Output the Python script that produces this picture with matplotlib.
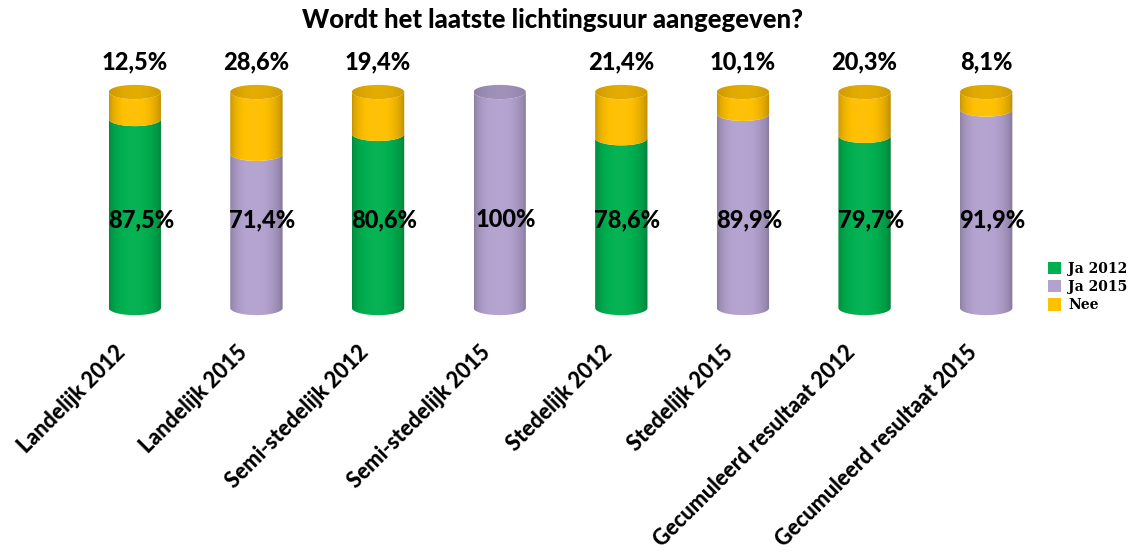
import numpy as np
import matplotlib
matplotlib.use("Agg")
import matplotlib.pyplot as plt
from matplotlib.patches import Polygon, Patch
from matplotlib.colors import to_rgb
import matplotlib.transforms as mtransforms

categories = ["Landelijk 2012", "Landelijk 2015", "Semi-stedelijk 2012", "Semi-stedelijk 2015",
              "Stedelijk 2012", "Stedelijk 2015", "Gecumuleerd resultaat 2012", "Gecumuleerd resultaat 2015"]
ja_values = [87.5, 71.4, 80.6, 100.0, 78.6, 89.9, 79.7, 91.9]
nee_values = [12.5, 28.6, 19.4, 0.0, 21.4, 10.1, 20.3, 8.1]
ja_labels = ["87,5%", "71,4%", "80,6%", "100%", "78,6%", "89,9%", "79,7%", "91,9%"]
nee_labels = ["12,5%", "28,6%", "19,4%", "", "21,4%", "10,1%", "20,3%", "8,1%"]
ja_series = ["Ja 2012", "Ja 2015", "Ja 2012", "Ja 2015", "Ja 2012", "Ja 2015", "Ja 2012", "Ja 2015"]

colors = {"Ja 2012": "#00B050", "Ja 2015": "#B3A2CF", "Nee": "#FFC000"}

FONT = ["Lato", "DejaVu Sans"]
WEIGHT = 900

fig = plt.figure(figsize=(11.29, 5.56), dpi=100)
ppu = 2.16
y_lo, y_hi = -5, 120
bot_px = 308 + (-y_lo) * ppu
top_px = 92 - (y_hi - 100) * ppu
ax = fig.add_axes([74 / 1129, (556 - bot_px) / 556, 973 / 1129, (bot_px - top_px) / 556])
ax.set_xlim(-0.5, len(categories) - 0.5)
ax.set_ylim(y_lo, y_hi)
ax.axis("off")

hw = 0.215
ry = 3.3
t = np.linspace(0, np.pi, 60)


def shade(c, f):
    r = np.array(to_rgb(c))
    if f <= 1:
        return r * f
    return r + (1 - r) * (f - 1)


def grad_img(c):
    xs = np.linspace(0, 1, 200)
    prof = 0.74 + 0.32 * np.sin(np.pi * xs) ** 0.5 - 0.06 * xs
    img = np.array([[shade(c, f) for f in prof]])
    return np.clip(img, 0, 1)


def segment(x, y0, y1, c, z):
    bx = x - hw * np.cos(t)
    by = y0 - ry * np.sin(t)
    tx = x + hw * np.cos(t)
    ty = y1 - ry * np.sin(t)
    verts = np.column_stack([np.r_[bx, tx], np.r_[by, ty]])
    poly = Polygon(verts, closed=True, facecolor="none", edgecolor="none", zorder=z)
    ax.add_patch(poly)
    im = ax.imshow(grad_img(c), extent=[x - hw, x + hw, y0 - ry - 1, y1 + 1],
                   aspect="auto", zorder=z, interpolation="bilinear")
    im.set_clip_path(poly)


def top_face(x, y, c, z):
    tt = np.linspace(0, 2 * np.pi, 120)
    verts = np.column_stack([x + hw * np.cos(tt), y + ry * np.sin(tt)])
    poly = Polygon(verts, closed=True, facecolor="none", edgecolor="none", zorder=z)
    ax.add_patch(poly)
    xs = np.linspace(0, 1, 200)
    prof = 0.80 + 0.10 * np.sin(np.pi * xs)
    img = np.clip(np.array([[shade(c, f) for f in prof]]), 0, 1)
    im = ax.imshow(img, extent=[x - hw, x + hw, y - ry, y + ry], aspect="auto",
                   zorder=z, interpolation="bilinear")
    im.set_clip_path(poly)


for i, (ja, nee, s) in enumerate(zip(ja_values, nee_values, ja_series)):
    segment(i, 0, ja, colors[s], 2)
    top = ja
    topc = colors[s]
    if nee > 0:
        segment(i, ja, ja + nee, colors["Nee"], 3)
        top = ja + nee
        topc = colors["Nee"]
    top_face(i, top, topc, 4)

ax.set_xlim(-0.5, len(categories) - 0.5)
ax.set_ylim(y_lo, y_hi)

for i in range(len(categories)):
    ax.text(i + 0.05, 41, ja_labels[i], ha="center", va="center", fontsize=17,
            fontweight=WEIGHT, family=FONT, zorder=6, clip_on=False)
    if nee_labels[i]:
        ax.text(i, 114, nee_labels[i], ha="center", va="center", fontsize=17,
                fontweight=WEIGHT, family=FONT, zorder=6, clip_on=False)

for i, cat in enumerate(categories):
    trans = ax.transData + mtransforms.ScaledTranslation(-20 / 100, 0, fig.dpi_scale_trans)
    ax.text(i, -15.5, cat, rotation=45, ha="right", va="top", rotation_mode="anchor",
            fontsize=15.5, fontweight=WEIGHT, family=FONT, transform=trans, clip_on=False)

fig.text(553 / 1129, 1 - 20 / 556, "Wordt het laatste lichtingsuur aangegeven?", ha="center",
         va="center", fontsize=18.5, fontweight=WEIGHT, family=FONT)

handles = [Patch(facecolor=colors[k], edgecolor="none") for k in ["Ja 2012", "Ja 2015", "Nee"]]
leg = fig.legend(handles, ["Ja 2012", "Ja 2015", "Nee"], loc="center left",
                 bbox_to_anchor=(1035 / 1129, 1 - 287 / 556), frameon=False,
                 prop={"family": ["DejaVu Serif"], "weight": "bold", "size": 10},
                 handlelength=1.0, handleheight=1.0, handletextpad=0.5, labelspacing=0.3)

fig.savefig("out.png", dpi=100, facecolor="white")
